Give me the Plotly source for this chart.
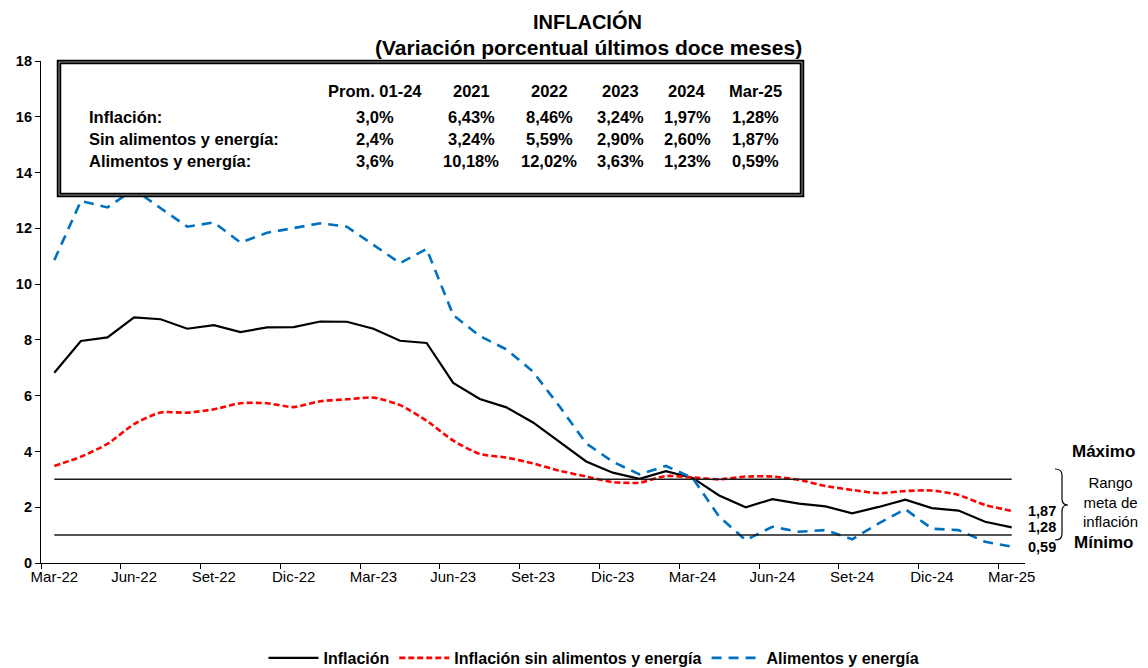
import plotly.graph_objects as go

# ---------------- data ----------------
meses = ["Mar-22", "Abr-22", "May-22", "Jun-22", "Jul-22", "Ago-22", "Set-22", "Oct-22", "Nov-22",
         "Dic-22", "Ene-23", "Feb-23", "Mar-23", "Abr-23", "May-23", "Jun-23", "Jul-23", "Ago-23",
         "Set-23", "Oct-23", "Nov-23", "Dic-23", "Ene-24", "Feb-24", "Mar-24", "Abr-24", "May-24",
         "Jun-24", "Jul-24", "Ago-24", "Set-24", "Oct-24", "Nov-24", "Dic-24", "Ene-25", "Feb-25",
         "Mar-25"]

inflacion = [6.82, 7.96, 8.09, 8.81, 8.74, 8.40, 8.53, 8.28, 8.45, 8.46, 8.66, 8.65, 8.40, 7.97,
             7.89, 6.46, 5.88, 5.58, 5.04, 4.34, 3.64, 3.24, 3.02, 3.29, 3.05, 2.42, 2.00, 2.29,
             2.13, 2.03, 1.78, 2.01, 2.27, 1.97, 1.88, 1.48, 1.28]

sin_alim_energia = [3.48, 3.81, 4.27, 4.98, 5.40, 5.39, 5.51, 5.73, 5.73, 5.59, 5.80, 5.87, 5.93,
                    5.66, 5.10, 4.39, 3.91, 3.78, 3.57, 3.31, 3.10, 2.90, 2.88, 3.12, 3.07, 3.00,
                    3.10, 3.10, 2.98, 2.76, 2.62, 2.50, 2.58, 2.60, 2.44, 2.08, 1.87]

alim_energia = [10.86, 12.98, 12.75, 13.40, 12.72, 12.06, 12.21, 11.49, 11.84, 12.02, 12.18, 12.06,
                11.40, 10.75, 11.26, 8.89, 8.14, 7.66, 6.86, 5.61, 4.29, 3.63, 3.18, 3.48, 3.05,
                1.66, 0.82, 1.30, 1.12, 1.18, 0.85, 1.42, 1.93, 1.23, 1.18, 0.76, 0.59]

meta_max = 3.0
meta_min = 1.0

tabla_cols = ["Prom. 01-24", "2021", "2022", "2023", "2024", "Mar-25"]
tabla_filas = ["Inflación:", "Sin alimentos y energía:", "Alimentos y energía:"]
tabla_inflacion = ["3,0%", "6,43%", "8,46%", "3,24%", "1,97%", "1,28%"]
tabla_sin_ae = ["2,4%", "3,24%", "5,59%", "2,90%", "2,60%", "1,87%"]
tabla_ae = ["3,6%", "10,18%", "12,02%", "3,63%", "1,23%", "0,59%"]

# ---------------- layout helpers ----------------
W, H = 1148, 668
L, R, T, B = 41, 1025, 61, 563


def px(x):
    return (x - L) / (R - L)


def py(y):
    return (B - y) / (B - T)


FONT = "Liberation Sans, Arial, sans-serif"
BLUE = "#0070C0"
RED = "#FF0000"

fig = go.Figure()

fig.add_trace(go.Scatter(x=meses, y=inflacion, mode="lines", name="Inflación",
                         line=dict(color="black", width=2.2)))
fig.add_trace(go.Scatter(x=meses, y=sin_alim_energia, mode="lines",
                         name="Inflación sin alimentos y energía",
                         line=dict(color=RED, width=2.6, dash="6px,3px", shape="spline",
                                   smoothing=0.6)))
fig.add_trace(go.Scatter(x=meses, y=alim_energia, mode="lines", name="Alimentos y energía",
                         line=dict(color=BLUE, width=2.6, dash="10px,7px")))

# target range lines
for v in (meta_max, meta_min):
    fig.add_trace(go.Scatter(x=[meses[0], meses[-1]], y=[v, v], mode="lines",
                             line=dict(color="#1a1a1a", width=1.5),
                             showlegend=False, hoverinfo="skip"))


def ann(text, x, y, size, bold=True, xanchor="center", **kw):
    f = dict(size=size, family=FONT, color="black")
    if bold:
        f["weight"] = "bold"
    d = dict(text=text, x=px(x), y=py(y), xref="paper", yref="paper", showarrow=False,
             xanchor=xanchor, yanchor="middle", font=f)
    d.update(kw)
    return d


annotations = []

# titles
annotations.append(ann("INFLACIÓN", 587, 21, 20))
annotations.append(ann("(Variación porcentual últimos doce meses)", 588, 47, 21))

# table text
col_x = [375, 471, 549, 620, 687, 755]
row_y = [117, 139, 161]
for cx, h in zip(col_x, tabla_cols):
    annotations.append(ann(h, cx, 91, 16.5))
for ry, lab, vals in zip(row_y, tabla_filas, [tabla_inflacion, tabla_sin_ae, tabla_ae]):
    annotations.append(ann(lab, 87, ry, 16.5, xanchor="left"))
    for cx, v in zip(col_x, vals):
        annotations.append(ann(v, cx, ry, 16.5))

# end-value labels
for serie in (sin_alim_energia, inflacion, alim_energia):
    annotations.append(dict(text=f"{serie[-1]:.2f}".replace(".", ","), x=meses[-1], y=serie[-1],
                            xref="x", yref="y", xanchor="left", yanchor="middle", xshift=14,
                            showarrow=False,
                            font=dict(size=14.5, family=FONT, color="black", weight="bold")))

# range labels
annotations.append(ann("Máximo", 1103, 451, 17))
annotations.append(ann("Mínimo", 1104, 542, 17))
annotations.append(ann("Rango<br>meta de<br>inflación", 1110, 502, 15, bold=False, align="center"))

# bracket path
x0, x1, x2 = px(1055), px(1062), px(1068)
yt, ym, yb = py(469), py(505), py(540)
c = py(469) - py(475)
bracket = (f"M {x0},{yt} Q {x1},{yt} {x1},{yt - c} L {x1},{ym + c} Q {x1},{ym} {x2},{ym} "
           f"Q {x1},{ym} {x1},{ym - c} L {x1},{yb + c} Q {x1},{yb} {x0},{yb}")

shapes = [
    dict(type="rect", xref="paper", yref="paper", x0=px(59), x1=px(802), y0=py(195), y1=py(62),
         fillcolor="white", line=dict(color="black", width=4.5), layer="above"),
    dict(type="rect", xref="paper", yref="paper", x0=px(59), x1=px(802), y0=py(195), y1=py(62),
         line=dict(color="#909090", width=1), layer="above"),
    dict(type="path", xref="paper", yref="paper", path=bracket,
         line=dict(color="black", width=1.2)),
]

fig.update_layout(
    width=W, height=H,
    margin=dict(l=L, r=W - R, t=T, b=H - B, autoexpand=False),
    paper_bgcolor="white", plot_bgcolor="white",
    font=dict(family=FONT, color="black"),
    showlegend=True,
    legend=dict(orientation="h", xref="container", yref="container", x=594 / W, y=1 - 658 / H,
                xanchor="center", yanchor="middle", itemwidth=50,
                font=dict(size=16, family=FONT, color="black", weight="bold"),
                bgcolor="rgba(0,0,0,0)"),
    annotations=annotations,
    shapes=shapes,
    xaxis=dict(type="category", categoryorder="array", categoryarray=meses,
               range=[-0.5, len(meses) - 0.5], tickmode="linear", tick0=0, dtick=3,
               tickson="boundaries", ticks="outside", ticklen=5, tickcolor="black", tickangle=0,
               showline=True, linecolor="black", linewidth=1.2, showgrid=False, zeroline=False,
               tickfont=dict(size=15, family=FONT, color="black")),
    yaxis=dict(range=[0, 18], tickmode="linear", tick0=0, dtick=2, ticks="outside", ticklen=5,
               tickcolor="black", showline=True, linecolor="black", linewidth=1.2,
               showgrid=False, zeroline=False,
               tickfont=dict(size=14.5, family=FONT, color="black", weight="bold")),
)

fig.write_html("out.html", config={"displayModeBar": False},
               post_script="document.body.style.margin='0';")
